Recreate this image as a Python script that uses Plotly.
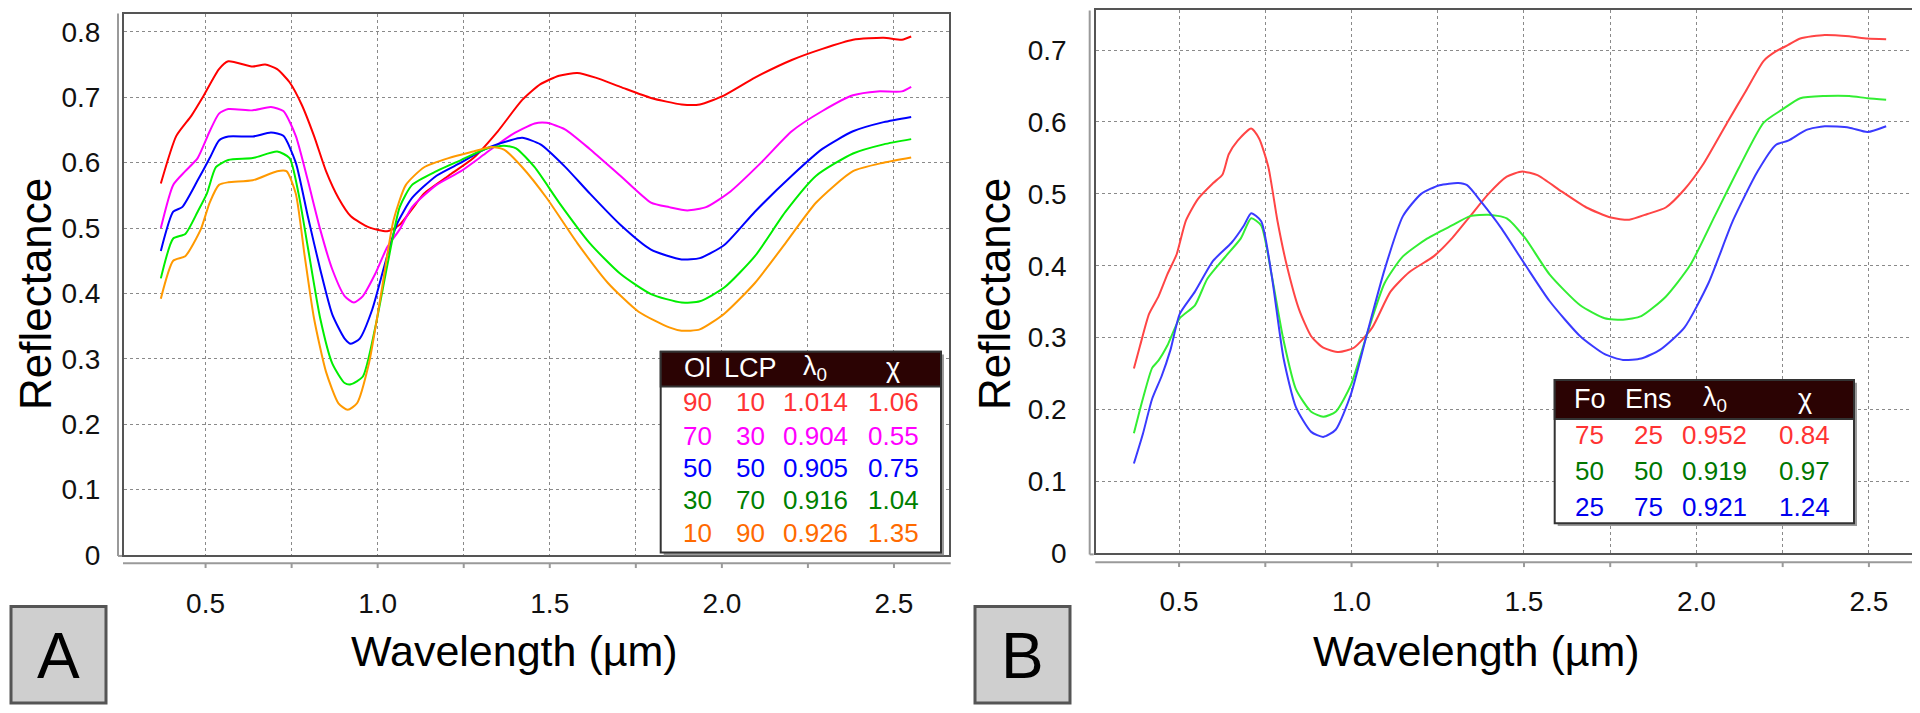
import plotly.graph_objects as go

# ---------------- Panel A data (Ol / LCP mixtures) ----------------
a_red_x = [0.37, 0.415, 0.459, 0.495, 0.539, 0.566, 0.637, 0.673, 0.708, 0.744, 0.779, 0.815, 0.850, 0.886, 0.922, 0.975, 1.028, 1.064, 1.100, 1.135, 1.206, 1.278, 1.349, 1.420, 1.473, 1.527, 1.580, 1.633, 1.705, 1.794, 1.883, 1.936, 2.007, 2.096, 2.203, 2.292, 2.381, 2.470, 2.523, 2.550]
a_red_y = [0.568, 0.641, 0.672, 0.703, 0.743, 0.755, 0.747, 0.750, 0.743, 0.723, 0.689, 0.641, 0.587, 0.546, 0.518, 0.501, 0.495, 0.505, 0.529, 0.553, 0.580, 0.607, 0.648, 0.696, 0.720, 0.733, 0.737, 0.730, 0.716, 0.699, 0.689, 0.689, 0.703, 0.730, 0.757, 0.774, 0.788, 0.791, 0.788, 0.793]

a_mag_x = [0.37, 0.406, 0.441, 0.477, 0.512, 0.539, 0.566, 0.637, 0.690, 0.726, 0.762, 0.797, 0.833, 0.868, 0.904, 0.931, 0.957, 0.993, 1.028, 1.064, 1.100, 1.171, 1.242, 1.313, 1.384, 1.456, 1.491, 1.544, 1.616, 1.705, 1.794, 1.847, 1.900, 1.954, 2.025, 2.114, 2.203, 2.292, 2.381, 2.452, 2.523, 2.550]
a_mag_y = [0.500, 0.566, 0.587, 0.607, 0.648, 0.675, 0.682, 0.680, 0.685, 0.679, 0.641, 0.573, 0.498, 0.437, 0.396, 0.386, 0.396, 0.430, 0.471, 0.498, 0.532, 0.566, 0.587, 0.614, 0.641, 0.660, 0.661, 0.651, 0.621, 0.580, 0.539, 0.532, 0.527, 0.532, 0.556, 0.600, 0.648, 0.679, 0.703, 0.709, 0.709, 0.716]

a_blue_x = [0.37, 0.406, 0.432, 0.477, 0.512, 0.539, 0.566, 0.637, 0.690, 0.726, 0.762, 0.797, 0.833, 0.868, 0.904, 0.922, 0.948, 0.984, 1.020, 1.055, 1.100, 1.171, 1.242, 1.313, 1.384, 1.420, 1.473, 1.544, 1.616, 1.705, 1.794, 1.883, 1.936, 2.007, 2.096, 2.203, 2.292, 2.381, 2.470, 2.550]
a_blue_y = [0.465, 0.525, 0.532, 0.573, 0.607, 0.634, 0.640, 0.640, 0.646, 0.641, 0.600, 0.518, 0.437, 0.368, 0.331, 0.323, 0.331, 0.375, 0.443, 0.505, 0.546, 0.580, 0.600, 0.621, 0.634, 0.638, 0.628, 0.594, 0.553, 0.505, 0.467, 0.452, 0.454, 0.474, 0.525, 0.580, 0.621, 0.648, 0.662, 0.670]

a_green_x = [0.37, 0.406, 0.441, 0.477, 0.504, 0.530, 0.566, 0.637, 0.708, 0.744, 0.770, 0.797, 0.833, 0.868, 0.904, 0.922, 0.957, 0.993, 1.028, 1.064, 1.100, 1.171, 1.242, 1.313, 1.367, 1.402, 1.456, 1.527, 1.616, 1.705, 1.794, 1.883, 1.936, 2.007, 2.096, 2.185, 2.274, 2.381, 2.470, 2.550]
a_green_y = [0.423, 0.484, 0.491, 0.525, 0.553, 0.593, 0.604, 0.607, 0.617, 0.607, 0.553, 0.471, 0.362, 0.293, 0.263, 0.261, 0.273, 0.348, 0.443, 0.532, 0.566, 0.587, 0.604, 0.621, 0.626, 0.622, 0.593, 0.539, 0.477, 0.430, 0.399, 0.386, 0.388, 0.409, 0.457, 0.525, 0.580, 0.614, 0.628, 0.636]

a_orange_x = [0.37, 0.406, 0.441, 0.486, 0.512, 0.539, 0.566, 0.637, 0.708, 0.735, 0.762, 0.788, 0.815, 0.850, 0.886, 0.913, 0.940, 0.975, 1.011, 1.046, 1.082, 1.135, 1.206, 1.278, 1.331, 1.367, 1.420, 1.491, 1.580, 1.669, 1.758, 1.847, 1.883, 1.936, 2.007, 2.096, 2.185, 2.274, 2.381, 2.470, 2.550]
a_orange_y = [0.392, 0.450, 0.457, 0.498, 0.539, 0.566, 0.570, 0.573, 0.587, 0.587, 0.553, 0.457, 0.362, 0.280, 0.232, 0.222, 0.232, 0.294, 0.403, 0.512, 0.566, 0.593, 0.607, 0.617, 0.624, 0.620, 0.593, 0.546, 0.477, 0.416, 0.372, 0.348, 0.343, 0.345, 0.369, 0.416, 0.477, 0.539, 0.587, 0.600, 0.608]

# ---------------- Panel B data (Fo / Ens mixtures) ----------------
b_red_x = [0.369, 0.387, 0.413, 0.440, 0.466, 0.493, 0.520, 0.555, 0.599, 0.626, 0.644, 0.670, 0.709, 0.732, 0.759, 0.785, 0.812, 0.848, 0.883, 0.918, 0.963, 1.007, 1.060, 1.113, 1.167, 1.238, 1.291, 1.344, 1.397, 1.450, 1.495, 1.539, 1.610, 1.681, 1.752, 1.805, 1.858, 1.911, 1.965, 2.018, 2.089, 2.142, 2.195, 2.230, 2.266, 2.301, 2.372, 2.443, 2.496, 2.550]
b_red_y = [0.257, 0.289, 0.333, 0.357, 0.388, 0.416, 0.463, 0.493, 0.515, 0.527, 0.555, 0.574, 0.591, 0.577, 0.537, 0.463, 0.401, 0.339, 0.302, 0.286, 0.280, 0.286, 0.314, 0.364, 0.391, 0.413, 0.438, 0.469, 0.500, 0.524, 0.531, 0.526, 0.503, 0.481, 0.467, 0.464, 0.472, 0.481, 0.506, 0.540, 0.599, 0.642, 0.685, 0.698, 0.707, 0.716, 0.721, 0.719, 0.716, 0.715]

b_green_x = [0.369, 0.395, 0.422, 0.440, 0.466, 0.502, 0.546, 0.582, 0.635, 0.679, 0.709, 0.738, 0.768, 0.803, 0.839, 0.883, 0.918, 0.954, 0.998, 1.043, 1.096, 1.149, 1.220, 1.291, 1.344, 1.397, 1.450, 1.504, 1.574, 1.663, 1.734, 1.787, 1.840, 1.911, 1.982, 2.053, 2.124, 2.195, 2.248, 2.301, 2.372, 2.443, 2.496, 2.550]
b_green_y = [0.167, 0.215, 0.258, 0.268, 0.289, 0.327, 0.345, 0.382, 0.413, 0.438, 0.466, 0.456, 0.388, 0.296, 0.228, 0.197, 0.190, 0.197, 0.234, 0.302, 0.376, 0.413, 0.438, 0.456, 0.469, 0.471, 0.466, 0.438, 0.388, 0.345, 0.327, 0.325, 0.330, 0.357, 0.401, 0.469, 0.537, 0.599, 0.617, 0.633, 0.636, 0.636, 0.633, 0.631]

b_blue_x = [0.369, 0.395, 0.422, 0.449, 0.475, 0.502, 0.546, 0.599, 0.652, 0.688, 0.709, 0.738, 0.768, 0.803, 0.839, 0.883, 0.918, 0.954, 0.998, 1.043, 1.096, 1.149, 1.202, 1.255, 1.309, 1.335, 1.379, 1.433, 1.504, 1.574, 1.663, 1.734, 1.787, 1.840, 1.894, 1.965, 2.035, 2.106, 2.177, 2.230, 2.266, 2.319, 2.372, 2.443, 2.496, 2.550]
b_blue_y = [0.125, 0.166, 0.215, 0.246, 0.283, 0.333, 0.364, 0.407, 0.432, 0.456, 0.473, 0.462, 0.388, 0.271, 0.203, 0.169, 0.162, 0.172, 0.221, 0.302, 0.395, 0.469, 0.500, 0.512, 0.515, 0.512, 0.487, 0.453, 0.401, 0.351, 0.302, 0.277, 0.269, 0.271, 0.283, 0.314, 0.376, 0.463, 0.531, 0.568, 0.574, 0.589, 0.594, 0.592, 0.586, 0.594]

# ---------------- Tables ----------------
table_a_header = ["Ol", "LCP", "λ<sub>0</sub>", "χ"]
table_a_ol = ["90", "70", "50", "30", "10"]
table_a_lcp = ["10", "30", "50", "70", "90"]
table_a_lambda = ["1.014", "0.904", "0.905", "0.916", "0.926"]
table_a_chi = ["1.06", "0.55", "0.75", "1.04", "1.35"]
table_a_colors = ["#ff3333", "#ff00ff", "#0000ff", "#008000", "#ff6a00"]

table_b_header = ["Fo", "Ens", "λ<sub>0</sub>", "χ"]
table_b_fo = ["75", "50", "25"]
table_b_ens = ["25", "50", "75"]
table_b_lambda = ["0.952", "0.919", "0.921"]
table_b_chi = ["0.84", "0.97", "1.24"]
table_b_colors = ["#ff3333", "#007700", "#0000ee"]

x_tick_vals = [0.5, 1.0, 1.5, 2.0, 2.5]
x_tick_text = ["0.5", "1.0", "1.5", "2.0", "2.5"]
minor_ticks = [0.5, 0.75, 1.0, 1.25, 1.5, 1.75, 2.0, 2.25, 2.5]

W, H = 1920, 713
FONT = "Liberation Sans, Arial, Helvetica, sans-serif"


def px(xp):
    return xp / W


def py(yp):
    return 1 - yp / H


fig = go.Figure()

series_a = [
    (a_red_x, a_red_y, "#ff0000"),
    (a_mag_x, a_mag_y, "#ff00ff"),
    (a_blue_x, a_blue_y, "#0000ff"),
    (a_green_x, a_green_y, "#00ee00"),
    (a_orange_x, a_orange_y, "#ff9900"),
]
for xs, ys, c in series_a:
    fig.add_trace(go.Scatter(x=xs, y=ys, mode="lines", xaxis="x", yaxis="y",
                             line=dict(color=c, width=2, shape="spline", smoothing=0.6),
                             showlegend=False, hoverinfo="skip"))

series_b = [
    (b_red_x, b_red_y, "#ff4545"),
    (b_green_x, b_green_y, "#33ee33"),
    (b_blue_x, b_blue_y, "#3a3aff"),
]
for xs, ys, c in series_b:
    fig.add_trace(go.Scatter(x=xs, y=ys, mode="lines", xaxis="x2", yaxis="y2",
                             line=dict(color=c, width=2, shape="spline", smoothing=0.6),
                             showlegend=False, hoverinfo="skip"))

# panel geometry (pixels)
A = dict(l=116, r=940.7, t=4.7, b=559.3)
B = dict(l=1088.3, r=1912.3, t=1.5, b=557.7)

grid_common = dict(showgrid=True, gridcolor="#8a8a8a", gridwidth=1, griddash="3px,3px",
                   zeroline=False, showline=True, mirror=True, linecolor="#555555",
                   linewidth=2, ticks="", tickfont=dict(family=FONT, size=28, color="#111"))

fig.update_layout(
    width=W, height=H, margin=dict(l=0, r=0, t=0, b=0),
    paper_bgcolor="white", plot_bgcolor="white", showlegend=False,
    xaxis=dict(domain=[px(A["l"]), px(A["r"])], range=[0.263, 2.659], anchor="y",
               tickvals=x_tick_vals, ticktext=x_tick_text, ticklabelstandoff=22,
               minor=dict(tickvals=minor_ticks, showgrid=True, gridcolor="#8a8a8a",
                          griddash="3px,3px", gridwidth=1),
               **grid_common),
    yaxis=dict(domain=[py(A["b"]), py(A["t"])], range=[0, 0.828], anchor="x",
               dtick=0.1, tick0=0, ticklabelstandoff=16, **grid_common),
    xaxis2=dict(domain=[px(B["l"]), px(B["r"])], range=[0.26, 2.649], anchor="y2",
                tickvals=x_tick_vals, ticktext=x_tick_text, ticklabelstandoff=22,
                minor=dict(tickvals=minor_ticks, showgrid=True, gridcolor="#8a8a8a",
                           griddash="3px,3px", gridwidth=1),
                **grid_common),
    yaxis2=dict(domain=[py(B["b"]), py(B["t"])], range=[0, 0.755], anchor="x2",
                dtick=0.1, tick0=0, ticklabelstandoff=22, **grid_common),
)

shapes = []
annotations = []

# offset axis lines with ticks
for P, xa, yline_x, xline_y in [(A, "x", 110, 567.7), (B, "x2", 1081.7, 566.7)]:
    shapes.append(dict(type="line", xref="paper", yref="paper",
                       x0=px(yline_x), x1=px(yline_x), y0=py(P["t"]), y1=py(P["b"] + 1),
                       line=dict(color="#9a9a9a", width=2)))
    shapes.append(dict(type="line", xref="paper", yref="paper",
                       x0=px(yline_x), x1=px(yline_x + 4), y0=py(P["b"] + 1), y1=py(P["b"] + 1),
                       line=dict(color="#9a9a9a", width=2)))
    shapes.append(dict(type="line", xref="paper", yref="paper",
                       x0=px(P["l"] - 1), x1=px(P["r"] + 2), y0=py(xline_y), y1=py(xline_y),
                       line=dict(color="#9a9a9a", width=2)))
    for t in minor_ticks:
        shapes.append(dict(type="line", xref=xa, yref="paper", x0=t, x1=t,
                           y0=py(xline_y), y1=py(xline_y + 5),
                           line=dict(color="#9a9a9a", width=2)))


def add_table(box, header_bottom, col_x, header_y, row_ys, header, cols, colors):
    l, t, r, b = box
    shapes.append(dict(type="rect", xref="paper", yref="paper", layer="above",
                       x0=px(l + 3), x1=px(r + 3), y0=py(t + 3), y1=py(b + 3),
                       fillcolor="#9a9a9a", line=dict(width=0)))
    shapes.append(dict(type="rect", xref="paper", yref="paper", layer="above",
                       x0=px(l), x1=px(r), y0=py(t), y1=py(b),
                       fillcolor="white", line=dict(color="#333333", width=2)))
    shapes.append(dict(type="rect", xref="paper", yref="paper", layer="above",
                       x0=px(l), x1=px(r), y0=py(t), y1=py(header_bottom),
                       fillcolor="#2b0303", line=dict(color="#333333", width=2)))
    for cx, h in zip(col_x, header):
        annotations.append(dict(x=px(cx), y=py(header_y), xref="paper", yref="paper",
                                text=h, showarrow=False, xanchor="center", yanchor="middle",
                                font=dict(family=FONT, size=27, color="white")))
    for i, ry in enumerate(row_ys):
        for cx, col in zip(col_x, cols):
            annotations.append(dict(x=px(cx), y=py(ry), xref="paper", yref="paper",
                                    text=col[i], showarrow=False, xanchor="center",
                                    yanchor="middle",
                                    font=dict(family=FONT, size=26, color=colors[i])))


add_table((652.7, 351, 933, 556.7), 386.7, [689, 742, 807, 885], 368,
          [403, 437, 470, 503, 537], table_a_header,
          [table_a_ol, table_a_lcp, table_a_lambda, table_a_chi], table_a_colors)
add_table((1546.7, 380, 1846, 526.7), 420, [1581.7, 1640, 1706.7, 1796.7], 400,
          [436.7, 473.3, 510], table_b_header,
          [table_b_fo, table_b_ens, table_b_lambda, table_b_chi], table_b_colors)

# axis titles
for cx, cy in [(27, 292), (986, 292)]:
    annotations.append(dict(x=px(cx), y=py(cy), xref="paper", yref="paper", text="Reflectance",
                            textangle=-90, showarrow=False, xanchor="center", yanchor="middle",
                            font=dict(family=FONT, size=44, color="black")))
for cx in [506, 1468]:
    annotations.append(dict(x=px(cx), y=py(658), xref="paper", yref="paper",
                            text="Wavelength (µm)", showarrow=False, xanchor="center",
                            yanchor="middle", font=dict(family=FONT, size=43, color="black")))

# panel letter boxes
for (l, r), letter in [((3, 98), "A"), ((967, 1062), "B")]:
    shapes.append(dict(type="rect", xref="paper", yref="paper", x0=px(l), x1=px(r),
                       y0=py(612), y1=py(711), fillcolor="#cfcfcf",
                       line=dict(color="#555555", width=3)))
    annotations.append(dict(x=px((l + r) / 2), y=py(663), xref="paper", yref="paper",
                            text=letter, showarrow=False, xanchor="center", yanchor="middle",
                            font=dict(family=FONT, size=64, color="black")))

fig.update_layout(shapes=shapes, annotations=annotations)
fig.write_html("out.html")
